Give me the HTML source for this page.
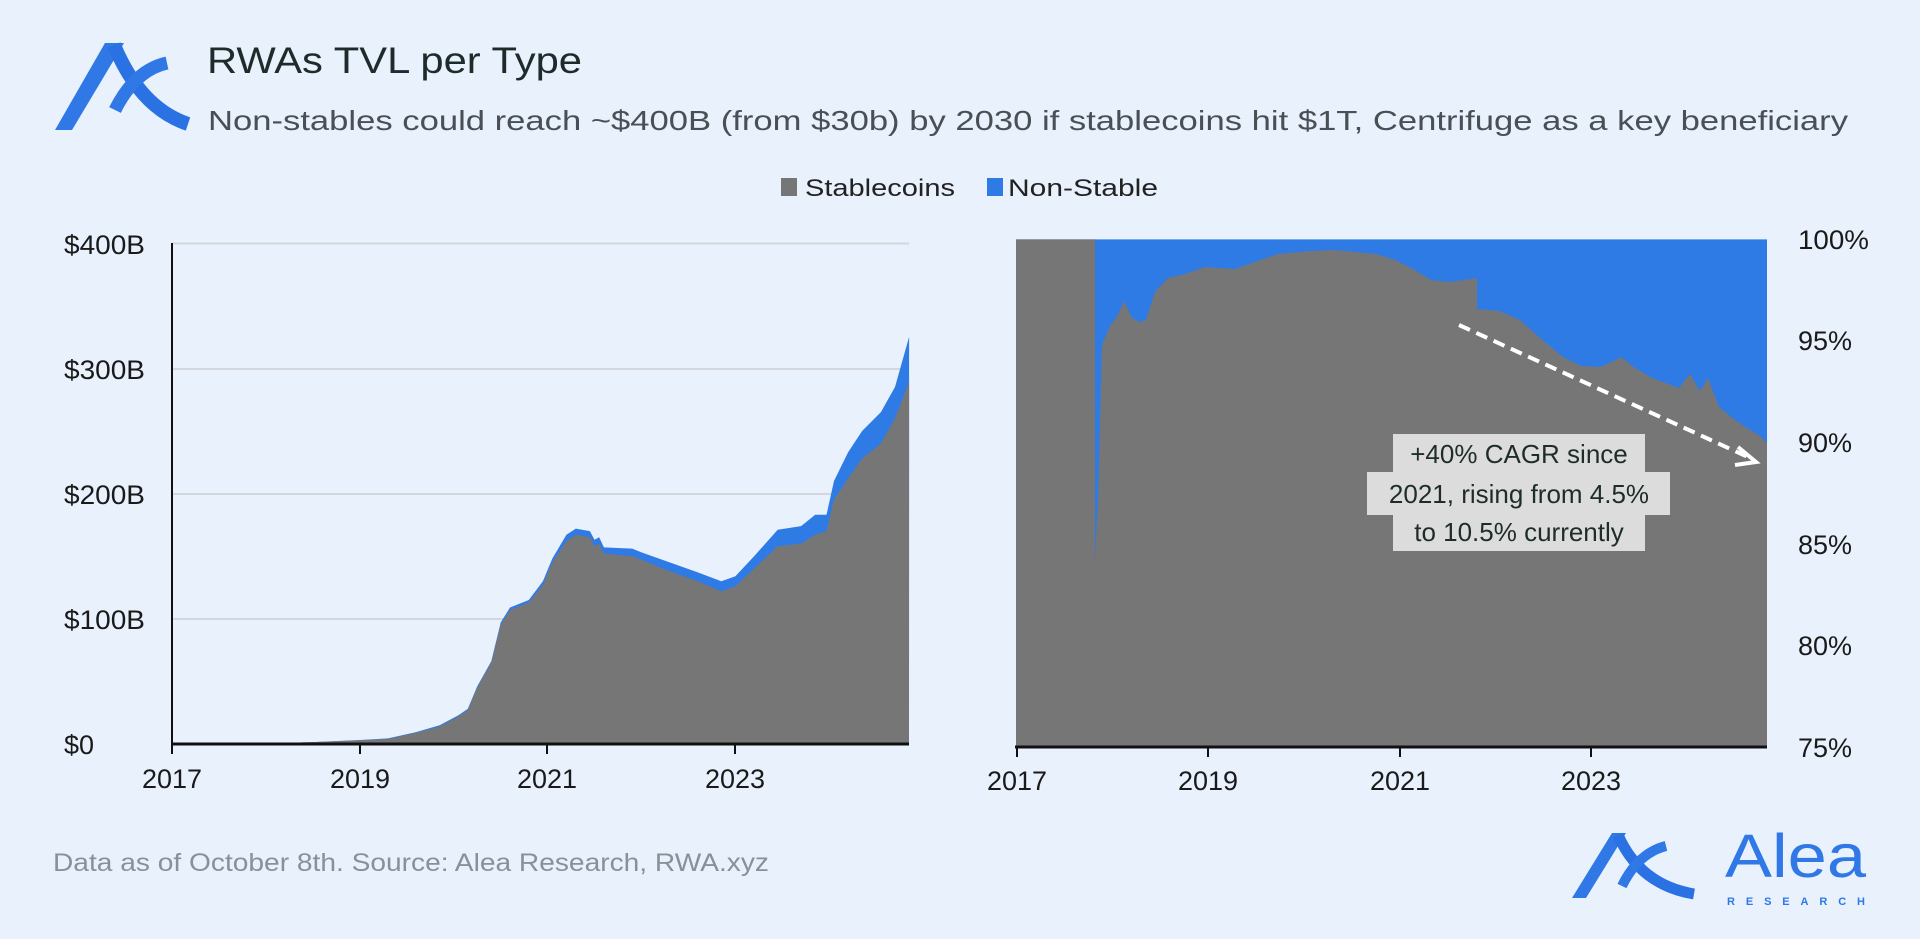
<!DOCTYPE html>
<html><head><meta charset="utf-8"><style>
html,body{margin:0;padding:0;background:#e8f1fc;}
svg{display:block;font-family:"Liberation Sans",sans-serif;}
</style></head><body>
<svg id="s" width="1920" height="939" viewBox="0 0 1920 939" xmlns="http://www.w3.org/2000/svg">
<rect width="1920" height="939" fill="#e8f1fc"/>
<!-- top-left logo -->
<polygon points="55,130 72,130 124,43 105,43" fill="#2f78e6"/>
<path d="M114 45 Q140 108 188 124" fill="none" stroke="#2a72e4" stroke-width="14"/>
<path d="M115 110 Q135 70 167 63" fill="none" stroke="#2f78e6" stroke-width="13"/>
<text x="207" y="73" font-size="37" fill="#1d2b2a" textLength="375" lengthAdjust="spacingAndGlyphs">RWAs TVL per Type</text>
<text x="208" y="130" font-size="28" fill="#4a4f55" textLength="1640" lengthAdjust="spacingAndGlyphs">Non-stables could reach ~$400B (from $30b) by 2030 if stablecoins hit $1T, Centrifuge as a key beneficiary</text>
<!-- legend -->
<rect x="781" y="178" width="16" height="18" fill="#767676"/>
<text x="805" y="196" font-size="24" fill="#222" textLength="150" lengthAdjust="spacingAndGlyphs">Stablecoins</text>
<rect x="987" y="178" width="16" height="18" fill="#2f7be6"/>
<text x="1008" y="196" font-size="24" fill="#222" textLength="150" lengthAdjust="spacingAndGlyphs">Non-Stable</text>
<!-- left chart grid -->
<g stroke="#d3d7db" stroke-width="2">
<line x1="172" y1="243.5" x2="909" y2="243.5"/>
<line x1="172" y1="369" x2="909" y2="369"/>
<line x1="172" y1="494" x2="909" y2="494"/>
<line x1="172" y1="619" x2="909" y2="619"/>
</g>
<path id="ltot" fill="#2f7be6"/>
<path id="lst" fill="#767676"/>
<line x1="172" y1="243" x2="172" y2="745" stroke="#111" stroke-width="2"/>
<line x1="171" y1="744" x2="909" y2="744" stroke="#111" stroke-width="3"/>
<g stroke="#111" stroke-width="2">
<line x1="172" y1="744" x2="172" y2="754"/><line x1="360" y1="744" x2="360" y2="754"/>
<line x1="547" y1="744" x2="547" y2="754"/><line x1="735" y1="744" x2="735" y2="754"/>
</g>
<g font-size="27" fill="#1a1a1a">
<text x="64" y="254" textLength="81" lengthAdjust="spacingAndGlyphs">$400B</text>
<text x="64" y="379" textLength="81" lengthAdjust="spacingAndGlyphs">$300B</text>
<text x="64" y="504" textLength="81" lengthAdjust="spacingAndGlyphs">$200B</text>
<text x="64" y="629" textLength="81" lengthAdjust="spacingAndGlyphs">$100B</text>
<text x="64" y="754">$0</text>
</g>
<g font-size="27" fill="#1a1a1a" text-anchor="middle">
<text x="172" y="788">2017</text><text x="360" y="788">2019</text>
<text x="547" y="788">2021</text><text x="735" y="788">2023</text>
</g>
<!-- right chart -->
<rect x="1016" y="239.4" width="751" height="507.6" fill="#2f7be6"/>
<polygon fill="#767676" points="1016,747 1016,239.4 1095,239.4 1095,562 1098,500 1102,345 1110,326 1118,315 1124,301 1132,318 1140,322 1146,320 1155,292 1168,278 1185,274 1205,267 1235,269 1255,262 1278,254 1310,251 1333,250 1355,252 1376,254 1395,260 1413,269 1431,280 1450,282 1477,278 1477,309 1499,311 1520,320 1540,338 1563,357 1581,366 1600,367 1612,362 1621,357 1635,368 1652,378 1679,388 1690,374 1700,391 1708,378 1719,407 1735,420 1750,430 1760,436 1767,443 1767,747"/>
<line x1="1015" y1="747" x2="1767" y2="747" stroke="#111" stroke-width="3"/>
<g stroke="#111" stroke-width="2">
<line x1="1017" y1="747" x2="1017" y2="757"/><line x1="1208" y1="747" x2="1208" y2="757"/>
<line x1="1400" y1="747" x2="1400" y2="757"/><line x1="1591" y1="747" x2="1591" y2="757"/>
</g>
<g font-size="27" fill="#1a1a1a" text-anchor="middle">
<text x="1017" y="790">2017</text><text x="1208" y="790">2019</text>
<text x="1400" y="790">2021</text><text x="1591" y="790">2023</text>
</g>
<g font-size="27" fill="#1a1a1a">
<text x="1798" y="249" textLength="71" lengthAdjust="spacingAndGlyphs">100%</text>
<text x="1798" y="350">95%</text>
<text x="1798" y="452">90%</text>
<text x="1798" y="554">85%</text>
<text x="1798" y="655">80%</text>
<text x="1798" y="757">75%</text>
</g>
<!-- arrow -->
<line x1="1459" y1="325" x2="1748" y2="457" stroke="#fff" stroke-width="4" stroke-dasharray="12,7"/>
<polyline points="1738,447 1756,462 1735,465" fill="none" stroke="#fff" stroke-width="4"/>
<!-- annotation -->
<g fill="#dcdcdc">
<rect x="1393" y="434" width="252" height="39"/>
<rect x="1367" y="472" width="303" height="43"/>
<rect x="1393" y="514" width="252" height="37"/>
</g>
<g font-size="26" fill="#1f2d2a" text-anchor="middle">
<text x="1519" y="463">+40% CAGR since</text>
<text x="1519" y="503">2021, rising from 4.5%</text>
<text x="1519" y="541">to 10.5% currently</text>
</g>
<!-- footer -->
<text x="53" y="871" font-size="25" fill="#8a9098" textLength="716" lengthAdjust="spacingAndGlyphs">Data as of October 8th. Source: Alea Research, RWA.xyz</text>
<!-- bottom-right logo -->
<polygon points="1572,898 1586,898 1626,833 1612,833" fill="#2f78e6"/>
<path d="M1618 835 Q1640 885 1694 894" fill="none" stroke="#2a72e4" stroke-width="11"/>
<path d="M1622 886 Q1638 853 1666 846" fill="none" stroke="#2f78e6" stroke-width="10"/>
<text x="1725" y="877" font-size="61" fill="#2f78e6" textLength="141" lengthAdjust="spacingAndGlyphs">Alea</text>
<text x="1727" y="905" font-size="11" font-weight="bold" fill="#2f78e6" textLength="138" lengthAdjust="spacing">RESEARCH</text>
</svg>
<script>
var d=[[2017,0,0],[2018,0.5,0.5],[2018.5,1.5,1.5],[2019,3,3.2],[2019.3,4,4.5],[2019.6,9,9.5],[2019.85,14,15],[2020.05,22,23],[2020.15,27,28],[2020.25,45,46],[2020.4,65,66],[2020.5,95,97],[2020.6,107,109],[2020.8,113,115],[2020.95,127,130],[2021.05,145,148],[2021.2,162,167],[2021.3,167,172],[2021.45,165,170],[2021.5,158,163],[2021.55,160,165],[2021.6,152,157],[2021.9,150,156],[2022.0,147,153],[2022.3,138,145],[2022.6,130,137],[2022.85,122,130],[2023.0,126,134],[2023.2,140,150],[2023.45,158,171],[2023.7,160,174],[2023.85,167,183],[2023.97,170,183],[2024.05,195,210],[2024.2,212,233],[2024.35,228,250],[2024.55,240,265],[2024.7,260,285],[2024.85,289,325]];
function X(y){return 172+(y-2017)*93.9;}function Y(v){return 744-v*1.2525;}
var a="M172 744",b="M172 744";
d.forEach(function(p){a+=" L"+X(p[0]).toFixed(1)+" "+Y(p[2]).toFixed(1);b+=" L"+X(p[0]).toFixed(1)+" "+Y(p[1]).toFixed(1);});
a+=" L909 744Z";b+=" L909 744Z";
document.getElementById("ltot").setAttribute("d",a);
document.getElementById("lst").setAttribute("d",b);
</script>
</body></html>
